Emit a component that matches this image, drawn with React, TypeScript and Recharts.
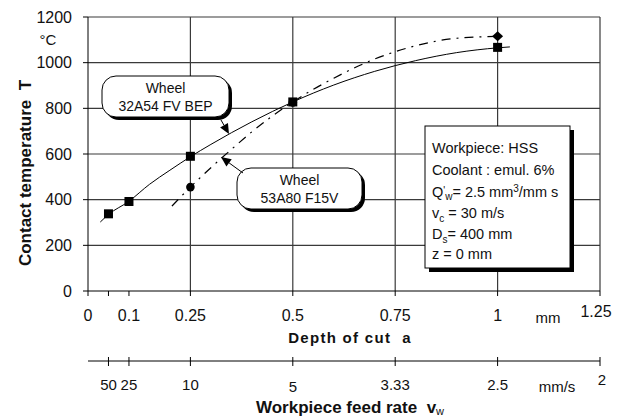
import { CartesianGrid, ComposedChart, Line, Scatter, XAxis, YAxis } from "recharts";

// axes
const depthTicks = [0, 0.05, 0.1, 0.25, 0.5, 0.75, 1, 1.25];
const depthLabels = ["0", "", "0.1", "0.25", "0.5", "0.75", "1", "1.25"];
const feedTicks = [0.05, 0.1, 0.25, 0.5, 0.75, 1, 1.25];
const feedLabels = ["50", "25", "10", "5", "3.33", "2.5", "2"];
const tempTicks = [0, 200, 400, 600, 800, 1000, 1200];
const gridDepths = [0.25, 0.5, 0.75, 1, 1.25];

// measured points, wheel 32A54 FV BEP
const wheel1Depth = [0.05, 0.1, 0.25, 0.5, 1];
const wheel1Temp = [338, 392, 590, 828, 1067];

// measured points, wheel 53A80 F15V
const wheel2Depth = [0.25, 0.5, 1];
const wheel2Temp = [455, 826, 1116];
const wheel2Marker = ["circle", "circle", "diamond"];

// fitted curves
const fit1Depth = [0.03, 0.05, 0.1, 0.15, 0.2, 0.25, 0.3, 0.4, 0.5, 0.6, 0.7, 0.8, 0.9, 1, 1.03];
const fit1Temp = [302, 335, 393, 467, 529, 588, 642, 741, 828, 902, 962, 1009, 1044, 1065, 1069];
const fit2Depth = [0.205, 0.25, 0.3, 0.35, 0.4, 0.5, 0.6, 0.7, 0.8, 0.9, 1];
const fit2Temp = [372, 455, 540, 620, 697, 828, 932, 1016, 1074, 1107, 1115];

const wheel1 = wheel1Depth.map((x, i) => ({ x, t: wheel1Temp[i] }));
const wheel2 = wheel2Depth.map((x, i) => ({ x, t: wheel2Temp[i], m: wheel2Marker[i] }));
const fit1 = fit1Depth.map((x, i) => ({ x, t: fit1Temp[i] }));
const fit2 = fit2Depth.map((x, i) => ({ x, t: fit2Temp[i] }));

const FONT = "'Liberation Sans', Arial, sans-serif";
const INK = "#000";
const GRID = "#3a3a3a";
const NB = "\u00a0";

const Square = (p: any) => (
  <rect x={p.cx - 4.5} y={p.cy - 4.5} width={9} height={9} fill={INK} />
);

const Wheel2Marker = (p: any) => {
  const m = p.m ?? p.payload?.m;
  if (m === "diamond") {
    const { cx, cy } = p;
    return <polygon points={`${cx},${cy - 5} ${cx + 5.5},${cy} ${cx},${cy + 5} ${cx - 5.5},${cy}`} fill={INK} />;
  }
  return <circle cx={p.cx} cy={p.cy} r={4.3} fill={INK} />;
};

const DepthTick = (p: any) => {
  const i = depthTicks.indexOf(p.payload.value);
  const label = depthLabels[i] ?? "";
  const last = p.payload.value === 1.25;
  return (
    <g fontFamily={FONT} fontSize={16} fill="#111">
      <text x={last ? p.x - 4 : p.x} y={p.y + (last ? 21 : 25)} textAnchor="middle">{label}</text>
      {last && <text x={p.x - 52} y={p.y + 27} textAnchor="middle" fontSize={15}>mm</text>}
    </g>
  );
};

const FeedTick = (p: any) => {
  const i = feedTicks.indexOf(p.payload.value);
  const label = feedLabels[i] ?? "";
  const v = p.payload.value;
  const dy = v === 1.25 ? 24 : v === 0.5 ? 31 : 29;
  return (
    <g fontFamily={FONT} fontSize={15} fill="#111">
      <line x1={p.x} x2={p.x} y1={p.y - 4} y2={p.y + 5} stroke={INK} />
      <text x={v === 1.25 ? p.x + 2 : p.x} y={p.y + dy} textAnchor="middle">{label}</text>
      {v === 1.25 && <text x={p.x - 43} y={p.y + 31} textAnchor="middle" fontSize={15}>mm/s</text>}
    </g>
  );
};

function Callout({ x, y, w, h, lines }: { x: number; y: number; w: number; h: number; lines: string[] }) {
  return (
    <g>
      <rect x={x + 3} y={y + 3} width={w} height={h} rx={14} fill={INK} />
      <rect x={x} y={y} width={w} height={h} rx={14} fill="#fff" stroke={INK} />
      <text x={x + w / 2} y={y + 17} textAnchor="middle" fontSize={14}>{lines[0]}</text>
      <text x={x + w / 2} y={y + 35} textAnchor="middle" fontSize={14}>{lines[1]}</text>
    </g>
  );
}

function Arrow({ x1, y1, x2, y2 }: { x1: number; y1: number; x2: number; y2: number }) {
  const dx = x2 - x1;
  const dy = y2 - y1;
  const len = Math.hypot(dx, dy);
  const ux = dx / len;
  const uy = dy / len;
  const bx = x2 - ux * 10;
  const by = y2 - uy * 10;
  const px = -uy * 4.5;
  const py = ux * 4.5;
  return (
    <g>
      <line x1={x1} y1={y1} x2={bx} y2={by} stroke={INK} />
      <polygon points={`${x2},${y2} ${bx + px},${by + py} ${bx - px},${by - py}`} fill={INK} />
    </g>
  );
}

export default function App() {
  return (
    <div style={{ position: "absolute", left: 0, top: 0, width: 619, height: 419, background: "#fff" }}>
      <ComposedChart width={619} height={419} margin={{ top: 17, right: 19, left: 0, bottom: 0 }}>
        <CartesianGrid
          stroke={GRID}
          strokeWidth={1.2}
          horizontalValues={tempTicks.slice(1)}
          verticalValues={gridDepths}
          xAxisId="a"
        />
        <XAxis
          xAxisId="a"
          dataKey="x"
          type="number"
          domain={[0, 1.25]}
          ticks={depthTicks}
          interval={0}
          height={70}
          tickSize={5}
          tickMargin={0}
          stroke={INK}
          tick={<DepthTick />}
        />
        <XAxis
          xAxisId="vw"
          dataKey="x"
          type="number"
          domain={[0, 1.25]}
          ticks={feedTicks}
          interval={0}
          height={58}
          tickSize={0}
          tickMargin={0}
          tickLine={false}
          stroke={INK}
          tick={<FeedTick />}
        />
        <YAxis
          type="number"
          domain={[0, 1200]}
          ticks={tempTicks}
          interval={0}
          width={88}
          tickSize={5}
          tickMargin={11}
          stroke={INK}
          tick={{ fill: "#111", fontSize: 16, fontFamily: FONT }}
        />
        {/* invisible copy so the feed-rate axis gets its ticks */}
        <Line
          xAxisId="vw"
          data={fit1}
          dataKey="t"
          stroke="none"
          dot={false}
          activeDot={false}
          isAnimationActive={false}
        />
        <Line
          xAxisId="a"
          data={fit1}
          dataKey="t"
          type="monotone"
          stroke={INK}
          strokeWidth={1}
          dot={false}
          activeDot={false}
          isAnimationActive={false}
        />
        <Line
          xAxisId="a"
          data={fit2}
          dataKey="t"
          type="monotone"
          stroke={INK}
          strokeWidth={1.2}
          strokeDasharray="9 6 2 6"
          dot={false}
          activeDot={false}
          isAnimationActive={false}
        />
        <Scatter xAxisId="a" data={wheel2} dataKey="t" shape={<Wheel2Marker />} isAnimationActive={false} />
        <Scatter xAxisId="a" data={wheel1} dataKey="t" shape={<Square />} isAnimationActive={false} />
      </ComposedChart>

      <svg
        width={619}
        height={419}
        style={{ position: "absolute", left: 0, top: 0, pointerEvents: "none" }}
        fontFamily={FONT}
        fill="#111"
      >
        <text x={48} y={45} textAnchor="middle" fontSize={15}>°C</text>
        <text
          transform="translate(31,173) rotate(-90)"
          textAnchor="middle"
          fontSize={17}
          fontWeight="bold"
        >
          {`Contact temperature${NB}${NB}T`}
        </text>
        <text x={350} y={343} textAnchor="middle" fontSize={15} fontWeight="bold" letterSpacing={1.3}>
          {`Depth of cut${NB}${NB}a`}
        </text>
        <text x={350} y={413} textAnchor="middle" fontSize={17} fontWeight="bold">
          {`Workpiece feed rate${NB}${NB}v`}
          <tspan dy={2} fontSize={11} fontWeight="normal">w</tspan>
        </text>

        <Callout x={102} y={76} w={127} h={41} lines={["Wheel", "32A54 FV BEP"]} />
        <Arrow x1={221} y1={120} x2={229} y2={134} />
        <Callout x={237} y={168} w={125} h={41} lines={["Wheel", "53A80 F15V"]} />
        <Arrow x1={243} y1={173} x2={221} y2={157} />

        <g>
          <rect x={429} y={130} width={145} height={142} fill={INK} />
          <rect x={425} y={126} width={145} height={142} fill="#fff" stroke={INK} />
          <g fontSize={14.5}>
            <text x={432} y={153}>Workpiece: HSS</text>
            <text x={432} y={175}>Coolant : emul. 6%</text>
            <text x={432} y={197}>
              Q<tspan dy={-3} fontSize={10}>'</tspan>
              <tspan dy={6} fontSize={10}>w</tspan>
              <tspan dy={-3}>= 2.5 mm</tspan>
              <tspan dy={-5} fontSize={10}>3</tspan>
              <tspan dy={5}>/mm s</tspan>
            </text>
            <text x={432} y={218}>
              v<tspan dy={4} fontSize={10}>c</tspan>
              <tspan dy={-4}> = 30 m/s</tspan>
            </text>
            <text x={432} y={239}>
              D<tspan dy={4} fontSize={10}>s</tspan>
              <tspan dy={-4}>= 400 mm</tspan>
            </text>
            <text x={432} y={259}>z = 0 mm</text>
          </g>
        </g>
      </svg>
    </div>
  );
}
